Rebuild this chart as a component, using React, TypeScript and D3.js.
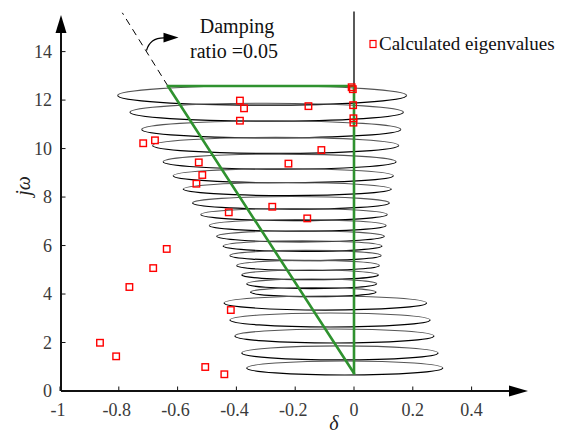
import React from "react";
import * as d3 from "d3";

// Axis ticks
const xTicks = [-1, -0.8, -0.6, -0.4, -0.2, 0, 0.2, 0.4];
const xTickLabels = ["-1", "-0.8", "-0.6", "-0.4", "-0.2", "0", "0.2", "0.4"];
const yTicks = [0, 2, 4, 6, 8, 10, 12, 14];

// Eigenvalue range ellipses: upper (narrow) stack
const upperCy = [12.19, 11.5, 10.79, 10.13, 9.46, 8.88, 8.33, 7.76, 7.28, 6.83, 6.38, 5.98, 5.59, 5.18, 4.79, 4.42, 4.08];
const upperLeft = [-0.804, -0.762, -0.722, -0.685, -0.649, -0.615, -0.581, -0.549, -0.521, -0.492, -0.467, -0.445, -0.422, -0.399, -0.382, -0.365, -0.352];
const upperRight = [0.179, 0.168, 0.159, 0.152, 0.143, 0.134, 0.127, 0.12, 0.113, 0.109, 0.103, 0.095, 0.092, 0.086, 0.083, 0.077, 0.075];
const upperHalfH = [0.4, 0.37, 0.35, 0.33, 0.31, 0.29, 0.27, 0.26, 0.25, 0.24, 0.23, 0.22, 0.21, 0.21, 0.2, 0.2, 0.19];

// Lower (wide) stack
const lowerCy = [3.63, 2.93, 2.27, 1.57, 0.95];
const lowerLeft = [-0.442, -0.422, -0.405, -0.382, -0.365];
const lowerRight = [0.247, 0.259, 0.272, 0.286, 0.302];
const lowerHalfH = [0.29, 0.29, 0.29, 0.29, 0.29];

// Calculated eigenvalues (real part δ, imaginary part jω)
const eigReal = [-0.388, -0.374, -0.388, -0.717, -0.677, -0.528, -0.516, -0.536, -0.223, -0.426, -0.278, -0.008, -0.004, -0.155, -0.003, -0.002, -0.002, -0.111, -0.159, -0.637, -0.683, -0.764, -0.419, -0.864, -0.809, -0.506, -0.441];
const eigImag = [11.98, 11.66, 11.15, 10.22, 10.34, 9.43, 8.91, 8.55, 9.38, 7.37, 7.6, 12.53, 12.45, 11.75, 11.79, 11.25, 11.07, 9.94, 7.12, 5.86, 5.07, 4.29, 3.34, 1.99, 1.43, 0.99, 0.69];

// Damping-ratio boundary
const dampTop = { x: -0.633, y: 12.58 };
const dampBottom = { x: 0, y: 0.73 };
const dashEnd = { x: -0.788, y: 15.6 };

const W = 564;
const H = 436;
const serif = "Liberation Serif, Times New Roman, serif";

export default function App() {
  const x = d3.scaleLinear().domain([-1, 0.5]).range([60, 501]);
  const y = d3.scaleLinear().domain([0, 14]).range([391, 51.6]);

  const ellipseHalves = (cy: number, l: number, r: number, hh: number) => {
    const x0 = x(l);
    const x1 = x(r);
    const yc = y(cy);
    const rx = (x1 - x0) / 2;
    const ry = y(0) - y(hh);
    return {
      top: `M${x0},${yc} A${rx},${ry} 0 0 1 ${x1},${yc}`,
      bottom: `M${x1},${yc} A${rx},${ry} 0 0 1 ${x0},${yc}`,
    };
  };

  const ellipses = [
    ...upperCy.map((c, i) => ellipseHalves(c, upperLeft[i], upperRight[i], upperHalfH[i])),
    ...lowerCy.map((c, i) => ellipseHalves(c, lowerLeft[i], lowerRight[i], lowerHalfH[i])),
  ];

  const axisX0 = x(-1) + 1;
  const axisY0 = y(0);
  const sq = 6.5;

  return (
    <svg
      width={W}
      height={H}
      style={{ position: "absolute", left: 0, top: 0, background: "#fff", fontFamily: serif }}
    >
      {/* ellipses */}
      <g fill="none">
        {ellipses.map((e, i) => (
          <g key={i}>
            <path d={e.top} stroke="#555" strokeWidth={1.1} />
            <path d={e.bottom} stroke="#000" strokeWidth={1.2} />
          </g>
        ))}
      </g>

      {/* imaginary axis above the boundary */}
      <line x1={x(0)} x2={x(0)} y1={y(15.65)} y2={y(dampTop.y)} stroke="#000" strokeWidth={1.3} />

      {/* dashed extension of the damping line */}
      <line
        x1={x(dampTop.x)}
        y1={y(dampTop.y)}
        x2={x(dashEnd.x)}
        y2={y(dashEnd.y)}
        stroke="#000"
        strokeWidth={1}
        strokeDasharray="7,5"
      />

      {/* damping boundary region */}
      <g stroke="#2f922f" strokeWidth={2.6} fill="none" strokeLinecap="round">
        <line x1={x(dampTop.x)} y1={y(dampTop.y)} x2={x(0)} y2={y(dampTop.y)} />
        <line x1={x(dampTop.x)} y1={y(dampTop.y)} x2={x(dampBottom.x)} y2={y(dampBottom.y)} />
        <line x1={x(0)} y1={y(dampTop.y)} x2={x(0)} y2={y(dampBottom.y)} />
      </g>

      {/* eigenvalues */}
      <g fill="none" stroke="#ff0000" strokeWidth={1.4}>
        {eigReal.map((v, i) => (
          <rect key={i} x={x(v) - sq / 2} y={y(eigImag[i]) - sq / 2} width={sq} height={sq} />
        ))}
      </g>

      {/* axes */}
      <g stroke="#111" strokeWidth={2}>
        <line x1={axisX0} x2={510} y1={axisY0} y2={axisY0} />
        <line x1={axisX0} x2={axisX0} y1={axisY0} y2={32} />
        {xTicks.map((t) => (
          <line key={t} x1={x(t)} x2={x(t)} y1={axisY0} y2={axisY0 - 4.5} strokeWidth={1} />
        ))}
        {yTicks.map((t) => (
          <line key={t} x1={axisX0} x2={axisX0 + 4.5} y1={y(t)} y2={y(t)} strokeWidth={1} />
        ))}
      </g>
      <polygon points={`528,${axisY0} 509,${axisY0 - 5.5} 509,${axisY0 + 5.5}`} fill="#000" />
      <polygon points={`${axisX0},15 ${axisX0 - 5.5},33 ${axisX0 + 5.5},33`} fill="#000" />

      {/* tick labels */}
      <g fill="#3a3a3a" fontSize={18} fontFamily={serif}>
        {xTicks.map((t, i) => (
          <text key={t} x={x(t) + (t < 0 ? -2 : 0)} y={416} textAnchor="middle" fontFamily={serif}>
            {xTickLabels[i]}
          </text>
        ))}
        {yTicks.map((t) => (
          <text key={t} x={52} y={y(t) + 6} textAnchor="end" fontFamily={serif}>
            {t}
          </text>
        ))}
      </g>

      {/* axis titles */}
      <text x={334} y={430} fontSize={20} fontStyle="italic" textAnchor="middle" fill="#222" fontFamily={serif}>
        δ
      </text>
      <text
        transform="translate(30,186) rotate(-90)"
        fontSize={20}
        fontStyle="italic"
        textAnchor="middle"
        fill="#222"
        fontFamily={serif}
      >
        jω
      </text>

      {/* damping ratio annotation */}
      <path d="M146.5,50.5 C149,41 156,37.5 165,37.8" fill="none" stroke="#000" strokeWidth={1.2} />
      <polygon points="178.5,37.6 163.5,32.8 163.5,42.6" fill="#000" />
      <g fontSize={20} fill="#111" textAnchor="middle" fontFamily={serif}>
        <text x={237} y={33}>Damping</text>
        <text x={234} y={57.5}>ratio =0.05</text>
      </g>

      {/* legend */}
      <rect x={370} y={40.5} width={6} height={7} fill="none" stroke="#ff0000" strokeWidth={1.2} />
      <text x={379} y={50} fontSize={19} fill="#111" fontFamily={serif}>
        Calculated eigenvalues
      </text>
    </svg>
  );
}
